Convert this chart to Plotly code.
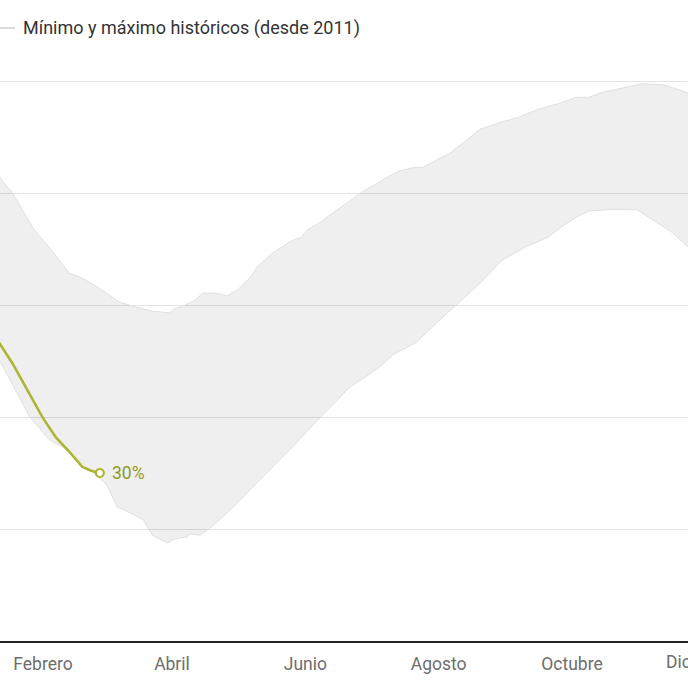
import plotly.graph_objects as go

# Día del año (0 = 1 de enero) y porcentaje de reserva
dias_max = [8, 11, 17, 22, 27, 34, 39, 43, 48, 56, 60, 66, 72, 81, 89, 91, 95, 100, 104, 111, 115, 120,
            126, 129, 136, 144, 149, 152, 158, 164, 170, 177, 185, 193, 200, 205, 211, 217, 225, 231,
            241, 249, 258, 268, 275, 281, 286, 296, 305, 315, 322, 326, 332]
valores_max = [84.6, 82.9, 80.0, 76.6, 73.4, 70.2, 67.7, 65.7, 65.0, 63.2, 62.1, 60.5, 59.8, 58.9, 58.6,
               59.3, 59.8, 60.7, 62.1, 62.1, 61.6, 62.7, 65.0, 66.8, 69.3, 71.3, 72.1, 73.4, 74.8, 76.6,
               78.2, 80.2, 82.0, 83.8, 84.5, 84.6, 85.9, 87.1, 89.5, 91.4, 92.7, 93.6, 95.0, 96.1, 97.1,
               97.1, 97.9, 98.8, 99.5, 99.3, 98.4, 97.9, 96.6]

dias_min = [8, 11, 25, 34, 40, 51, 60, 65, 71, 77, 81, 88, 91, 97, 98, 103, 109, 118, 127, 136, 145,
            158, 171, 185, 191, 202, 211, 220, 231, 241, 252, 262, 268, 275, 281, 292, 303, 310, 319,
            326, 332]
valores_min = [52.9, 50.2, 40.0, 35.9, 34.6, 31.1, 28.0, 23.9, 22.9, 21.6, 18.9, 17.5, 18.2, 18.6, 19.1,
               18.9, 20.7, 23.9, 27.5, 31.1, 34.6, 40.0, 45.2, 48.9, 51.1, 53.4, 56.8, 60.0, 63.9, 68.0,
               70.4, 72.1, 73.9, 75.7, 76.8, 77.1, 77.0, 75.2, 72.9, 70.4, 68.4]

dias_actual = [8, 11, 17, 24, 31, 37, 43, 49, 53, 57]
valores_actual = [55.2, 53.2, 49.6, 44.8, 39.8, 36.3, 33.8, 31.1, 30.4, 30.0]

meses_ticks = [31, 90, 151, 212, 273]
meses_etiquetas = ["Febrero", "Abril", "Junio", "Agosto", "Octubre"]
mes_dic = 334
etiqueta_dic = "Diciembre"

leyenda = "Mínimo y máximo históricos (desde 2011)"

FONT = "Roboto"
W, H = 688, 688
B = 47
plot_h = H - B
y_top = plot_h / 5.6  # 5.6 px por punto porcentual
x0 = 31 - 43 / 2.186
x1 = 31 + (W - 43) / 2.186

fig = go.Figure()
fig.add_trace(go.Scatter(x=dias_min, y=valores_min, mode="lines",
                         line=dict(color="#e0e0e0", width=1), hoverinfo="skip", showlegend=False))
fig.add_trace(go.Scatter(x=dias_max, y=valores_max, mode="lines", fill="tonexty",
                         fillcolor="rgba(0,0,0,0.063)",
                         line=dict(color="#e0e0e0", width=1), hoverinfo="skip", showlegend=False))
fig.add_trace(go.Scatter(x=dias_actual, y=valores_actual, mode="lines",
                         line=dict(color="#abb733", width=2.6), showlegend=False))
fig.add_trace(go.Scatter(x=[dias_actual[-1]], y=[valores_actual[-1]], mode="markers",
                         marker=dict(size=8, color="white", line=dict(color="#abb733", width=2.2)),
                         showlegend=False, cliponaxis=False))

fig.add_annotation(x=dias_actual[-1], y=valores_actual[-1], text=f"{valores_actual[-1]:.0f}%",
                   showarrow=False, xanchor="left", yanchor="middle", xshift=10,
                   font=dict(family=FONT, size=17.5, color="#8f9b1f"))

# Leyenda
fig.add_shape(type="line", xref="paper", yref="paper", x0=0, x1=15 / W,
              y0=(plot_h - 28) / plot_h, y1=(plot_h - 28) / plot_h,
              line=dict(color="#d0d0d0", width=1.5))
fig.add_annotation(xref="paper", yref="paper", x=21 / W, y=(plot_h - 28) / plot_h,
                   text=leyenda, showarrow=False, xanchor="left", yanchor="middle",
                   font=dict(family=FONT, size=18, color="#333333"))

# Etiqueta de diciembre (parcialmente fuera del área, como en el original)
fig.add_annotation(x=(mes_dic - x0) / (x1 - x0), xref="paper", yref="paper", y=0, yshift=-21,
                   text=etiqueta_dic, showarrow=False, xanchor="center", yanchor="middle",
                   font=dict(family=FONT, size=17.5, color="#6e6e6e"))

fig.update_layout(
    width=W, height=H,
    margin=dict(l=0, r=0, t=0, b=B, autoexpand=False),
    paper_bgcolor="white", plot_bgcolor="white",
    xaxis=dict(range=[x0, x1], tickvals=meses_ticks, ticktext=meses_etiquetas,
               showgrid=False, zeroline=False, showline=True, linecolor="#222222", linewidth=2,
               ticks="outside", ticklen=6, tickcolor="rgba(0,0,0,0)",
               tickfont=dict(family=FONT, size=17.5, color="#6e6e6e")),
    yaxis=dict(range=[0, y_top], dtick=20, showticklabels=False, showgrid=True,
               gridcolor="#e3e3e3", gridwidth=1, zeroline=False),
    showlegend=False,
    hovermode=False,
)

fig.write_html("out.html", config={"displayModeBar": False},
               post_script="document.body.style.margin='0';document.body.style.overflow='hidden';")
